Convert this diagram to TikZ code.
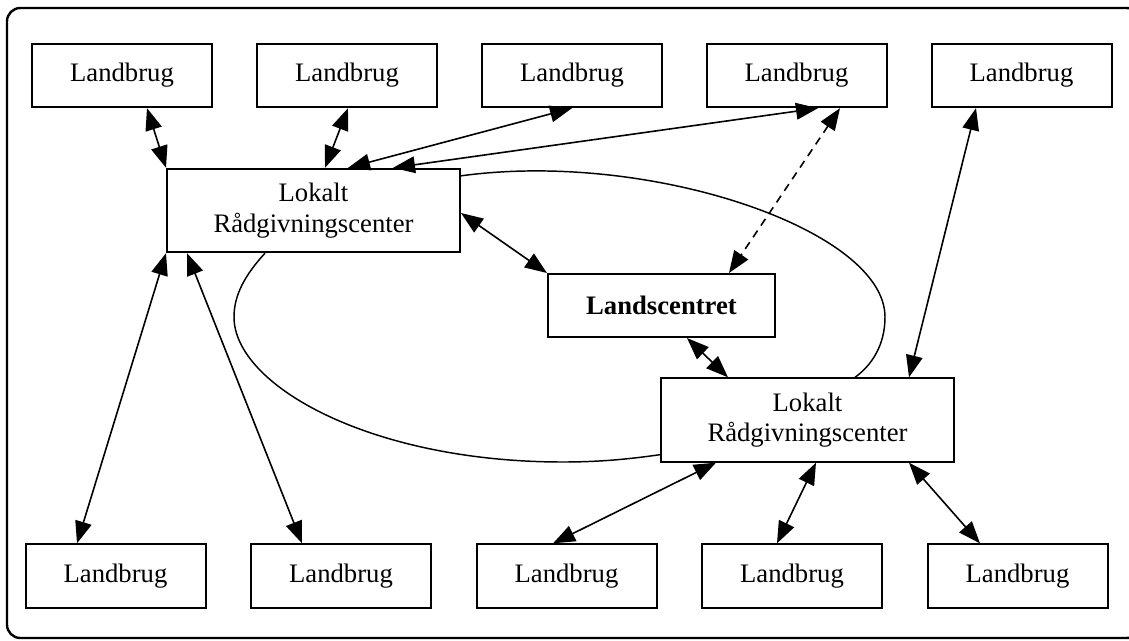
\documentclass[tikz,border=0pt]{standalone}
\usepackage{fontspec}
\setmainfont{Liberation Serif}
\usetikzlibrary{arrows.meta,calc}

\tikzset{
  farm/.style={draw, line width=1.5pt, inner sep=0pt,
    minimum width=135pt, minimum height=47.5pt,
    font=\fontsize{20}{23}\selectfont},
  office/.style={draw, line width=1.5pt, inner sep=0pt, align=center,
    minimum width=219.75pt, minimum height=62.5pt,
    font=\fontsize{20}{23}\selectfont},
  hub/.style={draw, line width=1.5pt, inner sep=0pt,
    minimum width=170.25pt, minimum height=47.25pt,
    font=\fontsize{20}{23}\selectfont\bfseries},
  tip/.style={Triangle[length=16.5pt,width=12.5pt]},
  link/.style={line width=1.2pt, {Triangle[length=16.5pt,width=12.5pt]}-{Triangle[length=16.5pt,width=12.5pt]}},
  ring/.style={line width=1.1pt},
  frame/.style={line width=1.8pt, rounded corners=10pt}
}

\begin{document}
\begin{tikzpicture}[x=0.75pt, y=-0.75pt]
  \useasboundingbox (0,0) rectangle (1129,640);
  \draw[frame] (7,8) rectangle (1140,638);

  % top row of farms
  \node[farm] (T1) at (122,75.5)    {Landbrug};
  \node[farm] (T2) at (347,75.5)    {Landbrug};
  \node[farm] (T3) at (572,75.5)    {Landbrug};
  \node[farm] (T4) at (796.5,75.5)  {Landbrug};
  \node[farm] (T5) at (1021.5,75.5) {Landbrug};

  % advisory centres and the national centre
  \node[office] (L1) at (313.5,210.5) {Lokalt\\Rådgivningscenter};
  \node[hub]    (LC) at (661.5,305.5) {Landscentret};
  \node[office] (L2) at (807.5,420)   {Lokalt\\Rådgivningscenter};

  % bottom row of farms
  \node[farm] (B1) at (115.5,576)  {Landbrug};
  \node[farm] (B2) at (341,576)    {Landbrug};
  \node[farm] (B3) at (566.5,576)  {Landbrug};
  \node[farm] (B4) at (792,576)    {Landbrug};
  \node[farm] (B5) at (1017.5,576) {Landbrug};

  % farm links of the first centre
  \draw[link] ($(T1.south)+(25,0)$)   -- (L1.north west);
  \draw[link] ($(T2.south)+(1,0)$)    -- ($(L1.north)+(11.5,0)$);
  \draw[link] (T3.south)              -- ($(L1.north)+(34.5,0)$);
  \draw[link] ($(T4.south)+(21.5,0)$) -- ($(L1.north)+(79.5,0)$);
  \draw[link] (L1.south west)         -- ($(B1.north)+(-38.5,0)$);
  \draw[link] ($(L1.south west)+(21,0)$) -- ($(B2.north)+(-39,0)$);

  % national centre links
  \draw[link, dash pattern=on 6pt off 4.5pt] ($(T4.south)+(43.5,0)$) -- ($(LC.north)+(67.5,0)$);
  \draw[link] ($(L1.east)+(0,2.5)$)   -- (LC.north west);
  \draw[link] ($(LC.south)+(25.5,0)$) -- ($(L2.north)+(-79.5,0)$);

  % farm links of the second centre
  \draw[link] ($(T5.south)+(-45.5,0)$) -- ($(L2.north)+(101.5,0)$);
  \draw[link] ($(L2.south)+(-91.5,0)$) -- ($(B3.north)+(-13.5,0)$);
  \draw[link] ($(L2.south)+(8.5,0)$)   -- ($(B4.north)+(-15,0)$);
  \draw[link] ($(L2.south)+(101.5,0)$) -- ($(B5.north)+(-37.5,0)$);

  % the two curved links between the local centres
  \draw[ring] ($(L1.north east)+(0,8)$)
     .. controls (650,150) and (885,230) .. (885,317)
     .. controls (885,345) and (872,365) .. ($(L2.north)+(47.5,0)$);
  \draw[ring] ($(L1.south)+(-48.5,0)$)
     .. controls (245,275) and (234,295) .. (234,317)
     .. controls (234,385) and (370,462) .. (563,462)
     .. controls (600,462) and (630,459) .. ($(L2.south west)+(0,-8)$);
\end{tikzpicture}
\end{document}
